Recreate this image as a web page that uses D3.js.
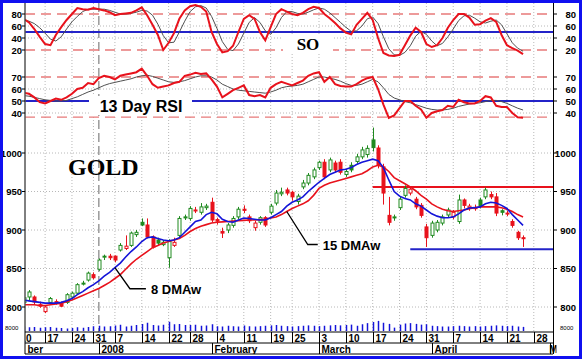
<!DOCTYPE html>
<meta charset="utf-8">
<script src="https://d3js.org/d3.v7.min.js"></script>
<style>
  body { margin: 0; background: #fff; }
  text { font-family: "Liberation Sans", Arial, sans-serif; }
</style>
<div id="chart"></div>
<script>

// trading days on the x axis (day of month)
var dec07 = [3,4,5,6,7,10,11,12,13,14,17,18,19,20,21,24,26,27,28,31];
var jan08 = [2,3,4,7,8,9,10,11,14,15,16,17,18,22,23,24,25,28,29,30,31];
var feb08 = [1,4,5,6,7,8,11,12,13,14,15,19,20,21,22,25,26,27,28,29];
var mar08 = [3,4,5,6,7,10,11,12,13,14,17,18,19,20,21,24,25,26,27,28,31];
var apr08 = [1,2,3,4,7,8,9,10,11,14,15,16,17,18,21,22,23,24,25,28,29,30];
var may08 = [1];

var firstBar = "2007-12-10";

// daily gold prices, Dec 10 2007 .. Apr 24 2008
var open = [802,806,
  813,813,803,794,806,807,805,806,813,818,
  830,835,842,849,865,866,866,874,876,880,
  894,910,906.5,891,887,881,864,880,893,917,
  915,926,923,929,936,913.5,898,900,906,917,
  927,917,903,910,916,923,935,947,952,949,
  937,956,961,969,981,988,978,987,988,972,
  984,989,995,998,1017,1006.5,982,919,916,929,
  945,948,940,932,904,893,900,909,919.5,917,
  911,939,929,929,939,943,946,943,925,922,
  911,897,890];
var high = [808,815,
  822,815,807,802,813,810,807,818,820,831,
  834,846,845,863,868,869,867,883,893,898,
  900,915,915,893,890,887,888,890,918,920,
  931,930,935,934,942,916,903,909,918,930,
  932,920,912,918,918,934,952,955,955,951,
  947,965,974,981,990,992,994,990,992,979,
  988,999,1008,1010,1033,1010,986,943,920,944,
  958,956,943,935,908,912,913,920,929,926,
  946,941,934,933,942,955,950,948,927,925,
  914,899,893];
var low = [799,803,
  809,802.6,799,792,803,803,800,804,811,816,
  828,833,836,847,861,861,858,872,874,878,
  891,905,889,876,880,879,851,878,891,913,
  912,922,920,926,910,907,889.6,896,903,914,
  922,909,899,907,904,920,932,944,945,938,
  933,953,958,966,978,966,975,975,972,969,
  975,986,992,994,1002,980,933,906,912,926,
  942,945,927,916,878,890,897,906,916,914,
  908,928,925,925,928,940,940,918,919,918,
  903,887,878];
var close = [806,812,
  819.5,806.5,801,800,811,806,801,816,818,829,
  831,844,838,861,866,864,861,880,879,896,
  897,906.5,891,878,883,884,885,884,915,916,
  928,926,930,931,913,911.5,896,906.5,915,927,
  925.5,912,909,916,906.5,931,948,949,948,943,
  944,961,971,978,988,969,991,978,975,976,
  978,995,1004,1006,1007,984,948,910,917,940,
  954,953,930,919,890,909,910,917,926,923,
  939,932,931,928,931,952,943,922,923,921,
  906,890,889];
var volume = [5500,6000,
  5000,5500,4500,5000,5500,4500,4000,3500,4000,5000,
  4500,5500,6500,7000,6000,6500,7500,8500,6000,7000,
  8000,9500,11000,8000,7500,8500,12500,9000,9500,8000,
  8000,8500,7000,7500,9000,6500,6000,7000,6500,6000,
  7500,6500,6000,6500,7000,7500,8000,7000,6500,6000,
  6500,7000,7500,7000,6500,7000,7500,8000,7500,8000,
  8500,7000,9000,10500,12000,13500,11000,9500,4500,8500,
  10000,10500,9500,8500,9000,7000,6500,6000,6000,6500,
  7000,6500,6000,6500,6000,6500,7000,7500,7000,6500,
  7000,6000,5500];

// 8 and 15 day weighted moving averages
var ma8 = [810,809,
  808,807,806,805,805,805,806,808,811,816,
  820,825,829,834,840,845,851,857,865,872,
  878,885,890,891,889,887,886,887,890,897,
  904,911,913,920,923,921,914,911,910,913,
  915.5,915,914,913,913,916,920,924,931,936,
  939,943,950,956,962,967,972,975,978,979,
  981,985,988,990,992,990,981,965,950,944,
  941,939,934,931,926,921,918,916,916,917,
  921,926,928.5,929,930,934,936,935,932,928,
  920,913,906];
var ma15 = [803,803,
  803,803,802,802,803,804,805,807,809,812,
  815,818,821,824,828,832,837,842,849,856,
  862,867,872,877,880,883,885,887,889,893,
  898,902,905,907,909,910,910.5,911,911.5,912,
  912.5,913,913,913.5,914,915.5,917,920,924,928,
  931,934,938,945,954,958,961,963,965,967,
  969,971,973,977,982,984,982,976,968,964,
  960,956,951,945,940,934,930,927,925,924,
  925,926,927.5,929,930,930,930,930,929,927,
  924,920,917];

// stochastic oscillator %K and %D
var soK = [76,72,
  66,55,42,30,28,45,58,70,80,90,
  88,87,90,88,86,83,78,80,81,82,
  86,91,78,62,45,20,32,48,72,86,
  93,95,92,84,50,30,16,18,27,50,
  72,78,72,50,36,58,80,88,84,80,
  78,82,88,92,90,80,73,65,56,49,
  46,62,72,82,70,40,15,11,10,12,
  28,44,57,50,30,25,28,40,57,70,
  80,80,74,62,63,69,73,67,45,28,
  23,19,13];
var soD = [72,70,
  68,64,57,48,38,35,42,55,67,76,
  84,88,88,88,88,86,83,80,80,81,
  83,86,85,78,63,44,32,33,50,68,
  84,92,94,90,76,56,34,21,19,30,
  48,66,74,66,52,46,57,74,84,84,
  81,80,83,87,90,88,82,74,66,58,
  51,52,60,72,75,64,42,22,12,11,
  16,27,43,51,46,35,27,31,42,55,
  69,77,78,73,67,65,68,70,62,47,
  32,23,18];

// 13 day RSI and its signal line
var rsi = [58,57,
  56,53,49,48,50,52,51,53,56,60,
  61,65,64,69,71,70,68,71,72,73,
  74,77,71,64,61,62,63,65,66,71,
  72,73.5,72.5,73,68,62,53,56,59,61,
  63,55,54,55,53,61,64,66,64.5,63,
  65,67,71,73,74,66,70,64,62.5,62,
  62,64,67,69,70,60,47,36,38,44,
  50,50,46,43,36,40,41.5,42.5,46,45,
  51,49,48,48,50,54,53,46,45,45,
  40,36.5,36];
var rsiSig = [55,54.5,
  54,53,52,51,50.5,50,50,50.5,52,53.5,
  55.5,57.5,59,61,63,64.5,65.5,66.5,67.5,68.5,
  70,71,71.5,70.5,69,67.5,66,65.5,66,67,
  68.5,70,71,71,70,67.5,64,62,60,59,
  58.5,58,57.5,57,56.5,57.5,59,61,62,62.5,
  63,64,66,68,70,70,69,68,66.5,64.5,
  63,63,64,66,68,66,61,55.5,52.5,51,
  49.5,48.5,47,45.5,44,43,42.5,42.5,43,44,
  45.5,46.5,47.5,48,48.5,49.5,50.5,50.5,49.5,48,
  46,44,42.5];

var weekTicks = ["2007-12-10","2007-12-17","2007-12-24","2007-12-31","2008-01-07","2008-01-14",
  "2008-01-22","2008-01-28","2008-02-04","2008-02-11","2008-02-19","2008-02-25","2008-03-03",
  "2008-03-10","2008-03-17","2008-03-24","2008-03-31","2008-04-07","2008-04-14","2008-04-21","2008-04-28"];
// December's label runs off the left edge, only its tail shows
var monthStarts = ["2007-12-10","2008-01-02","2008-02-01","2008-03-03","2008-04-01","2008-05-01"];
var monthNames = ["ber","2008","February","March","April","M"];

var soTicks = [80,60,40,20], rsiTicks = [70,60,50,40], priceTicks = [1000,950,900,850,800];
var resistance = 956, resistanceFrom = "2008-03-17";
var support = 875, supportFrom = "2008-03-26";

// ---------------------------------------------------------------
function pad(n) { return n < 10 ? "0" + n : "" + n; }
var days = [];
[["2007-12",dec07],["2008-01",jan08],["2008-02",feb08],["2008-03",mar08],["2008-04",apr08],["2008-05",may08]]
  .forEach(function(m) { m[1].forEach(function(d) { days.push(m[0] + "-" + pad(d)); }); });
var start = days.indexOf(firstBar);
var bars = close.map(function(c, i) {
  return {i: start + i, o: open[i], h: high[i], l: low[i], c: c, v: volume[i],
          prev: i ? close[i - 1] : open[i]};
});

var W = 582, H = 359, left = 25, right = 553;
var x = d3.scaleLinear().domain([7, 104]).range([29, 549.9]);
var ySO = d3.scaleLinear().domain([0, 100]).range([62, 2]);
var yRSI = d3.scaleLinear().domain([40, 70]).range([113, 77]);
var yP = d3.scaleLinear().domain([800, 1000]).range([307, 153]);
var yV = d3.scaleLinear().domain([0, 20000]).range([331, 316]);

var RED = "#e8121c", BLUE = "#1414d8", GREEN = "#1f8a1f", LVL = "#2323c8";

var svg = d3.select("#chart").append("svg").attr("width", W).attr("height", H);
svg.append("rect").attr("width", W).attr("height", H).attr("fill", "#fff");

svg.append("clipPath").attr("id", "plot")
  .append("rect").attr("x", left + 0.5).attr("y", 3).attr("width", right - left - 0.5).attr("height", 329);
svg.append("clipPath").attr("id", "rows")
  .append("rect").attr("x", left + 0.5).attr("y", 332).attr("width", right - left + 3).attr("height", 22);

var g = svg.append("g").attr("clip-path", "url(#plot)");

// vertical grid
g.selectAll(".vg").data(weekTicks).enter().append("line")
  .attr("x1", function(d) { return x(days.indexOf(d)); })
  .attr("x2", function(d) { return x(days.indexOf(d)); })
  .attr("y1", 3).attr("y2", 332)
  .attr("stroke", "#b8b8b8").attr("stroke-dasharray", "1,2");

// horizontal grid
function hgrid(vals, y) {
  g.selectAll(null).data(vals).enter().append("line")
    .attr("x1", left).attr("x2", right)
    .attr("y1", function(d) { return y(d); }).attr("y2", function(d) { return y(d); })
    .attr("stroke", "#b8b8b8").attr("stroke-dasharray", "1,2");
}
hgrid([60, 40], ySO);
hgrid([60, 40], yRSI);
hgrid(priceTicks, yP);

// year separator
g.append("line")
  .attr("x1", x(days.indexOf("2008-01-02"))).attr("x2", x(days.indexOf("2008-01-02")))
  .attr("y1", 3).attr("y2", 332)
  .attr("stroke", "#999").attr("stroke-width", 1.5).attr("stroke-dasharray", "9,4");

// oscillator levels
function dashed(v, y) {
  g.append("line").attr("x1", left).attr("x2", right).attr("y1", y(v)).attr("y2", y(v))
    .attr("stroke", "#e77a7a").attr("stroke-width", 1.3).attr("stroke-dasharray", "10,6");
}
dashed(80, ySO); dashed(20, ySO);
dashed(70, yRSI); dashed(36.5, yRSI);
g.append("line").attr("x1", left).attr("x2", right).attr("y1", ySO(50)).attr("y2", ySO(50))
  .attr("stroke", LVL).attr("stroke-width", 2);
g.append("line").attr("x1", left).attr("x2", right).attr("y1", yRSI(50)).attr("y2", yRSI(50))
  .attr("stroke", LVL).attr("stroke-width", 2);

// panel titles on white boxes
g.append("rect").attr("x", 283).attr("y", 36).attr("width", 50).attr("height", 18).attr("fill", "#fff");
g.append("text").attr("x", 308).attr("y", 50).attr("text-anchor", "middle")
  .style("font-family", "'Liberation Serif', 'Times New Roman', serif")
  .style("font-weight", "bold").style("font-size", "17px").text("SO");
g.append("rect").attr("x", 89).attr("y", 96).attr("width", 103).attr("height", 19).attr("fill", "#fff");
g.append("text").attr("x", 141).attr("y", 112).attr("text-anchor", "middle")
  .style("font-weight", "bold").style("font-size", "16px").text("13 Day RSI");

// oscillator lines
function series(vals, y) {
  return d3.line().x(function(d, i) { return x(start + i); }).y(function(d) { return y(d); })(vals);
}
g.append("path").attr("d", series(soD, ySO)).attr("fill", "none").attr("stroke", "#505050").attr("stroke-width", 1);
g.append("path").attr("d", series(soK, ySO)).attr("fill", "none").attr("stroke", RED).attr("stroke-width", 2);
g.append("path").attr("d", series(rsiSig, yRSI)).attr("fill", "none").attr("stroke", "#505050").attr("stroke-width", 1);
g.append("path").attr("d", series(rsi, yRSI)).attr("fill", "none").attr("stroke", RED).attr("stroke-width", 2);

// support / resistance
g.append("line").attr("x1", x(days.indexOf(resistanceFrom))).attr("x2", right)
  .attr("y1", yP(resistance)).attr("y2", yP(resistance)).attr("stroke", RED).attr("stroke-width", 2);
g.append("line").attr("x1", x(days.indexOf(supportFrom))).attr("x2", right)
  .attr("y1", yP(support)).attr("y2", yP(support)).attr("stroke", LVL).attr("stroke-width", 2);

// candles
var cg = g.append("g");
bars.forEach(function(b) {
  var col = b.c >= b.prev ? GREEN : RED;
  var cx = Math.round(x(b.i)) + 0.5;
  cg.append("line").attr("x1", cx).attr("x2", cx).attr("y1", yP(b.h)).attr("y2", yP(b.l))
    .attr("stroke", col).attr("stroke-width", 1);
  var top = yP(Math.max(b.o, b.c)), bot = yP(Math.min(b.o, b.c));
  cg.append("rect").attr("x", cx - 1.5).attr("y", top).attr("width", 3).attr("height", Math.max(bot - top, 1))
    .attr("fill", b.c > b.o ? "#fff" : col).attr("stroke", col).attr("stroke-width", 1);
});

// moving averages
g.append("path").attr("d", series(ma15, yP)).attr("fill", "none").attr("stroke", RED).attr("stroke-width", 1.6);
g.append("path").attr("d", series(ma8, yP)).attr("fill", "none").attr("stroke", BLUE).attr("stroke-width", 1.6);

// volume
g.selectAll(".vol").data(bars).enter().append("line")
  .attr("x1", function(d) { return Math.round(x(d.i)) + 0.5; })
  .attr("x2", function(d) { return Math.round(x(d.i)) + 0.5; })
  .attr("y1", yV(0)).attr("y2", function(d) { return yV(d.v); })
  .attr("stroke", BLUE).attr("stroke-width", 1.5);

// titles and callouts
svg.append("text").attr("x", 68).attr("y", 175)
  .style("font-family", "'Liberation Serif', 'Times New Roman', serif")
  .style("font-weight", "bold").style("font-size", "24px").text("GOLD");

function callout(day, arr, dx1, dy, dx2, label) {
  var k = days.indexOf(day), sx = x(k), sy = yP(arr[k - start]);
  svg.append("path").attr("d", "M" + sx + "," + sy + "L" + (sx + dx1) + "," + (sy + dy) + "L" + (sx + dx2) + "," + (sy + dy))
    .attr("fill", "none").attr("stroke", "#000").attr("stroke-width", 1.3);
  svg.append("text").attr("x", sx + dx2 + 5).attr("y", sy + dy + 5)
    .style("font-weight", "bold").style("font-size", "13px").text(label);
}
callout("2008-01-07", ma8, 15, 21, 31, "8 DMAw");
callout("2008-02-22", ma15, 21, 33, 31, "15 DMAw");

// value axes on both sides
svg.append("line").attr("x1", left).attr("x2", left).attr("y1", 3).attr("y2", 354).attr("stroke", "#000");
svg.append("line").attr("x1", right + 0.5).attr("x2", right + 0.5).attr("y1", 3).attr("y2", 354).attr("stroke", "#000");
function vaxis(vals, y) {
  vals.forEach(function(v) {
    svg.append("line").attr("x1", left - 3).attr("x2", left).attr("y1", y(v)).attr("y2", y(v)).attr("stroke", "#000");
    svg.append("line").attr("x1", right).attr("x2", right + 4).attr("y1", y(v)).attr("y2", y(v)).attr("stroke", "#000");
    svg.append("text").attr("x", 22).attr("y", y(v) + 3.5).attr("text-anchor", "end")
      .style("font-size", "9.5px").style("font-weight", "bold").text(v);
    svg.append("text").attr("x", 576).attr("y", y(v) + 3.5).attr("text-anchor", "end")
      .style("font-size", "9.5px").style("font-weight", "bold").text(v);
  });
}
vaxis(soTicks, ySO);
vaxis(rsiTicks, yRSI);
vaxis(priceTicks, yP);
svg.append("text").attr("x", 5).attr("y", 330).style("font-size", "6px").text("8000");
svg.append("text").attr("x", 560).attr("y", 330).style("font-size", "6px").text("8000");

// date rows
[332, 343, 354].forEach(function(yy) {
  svg.append("line").attr("x1", left).attr("x2", right).attr("y1", yy).attr("y2", yy).attr("stroke", "#000");
});
var rows = svg.append("g").attr("clip-path", "url(#rows)");
weekTicks.forEach(function(d) {
  var xx = Math.round(x(days.indexOf(d))) + 0.5;
  rows.append("line").attr("x1", xx).attr("x2", xx).attr("y1", 332).attr("y2", 343).attr("stroke", "#000");
  rows.append("text").attr("x", xx + 2).attr("y", 342).style("font-size", "10px").style("font-weight", "bold")
    .text(+d.slice(8));
});
monthStarts.forEach(function(d, j) {
  var xx = Math.round(x(days.indexOf(d))) + 0.5;
  if (j > 0) rows.append("line").attr("x1", xx).attr("x2", xx).attr("y1", 343).attr("y2", 354).attr("stroke", "#000");
  rows.append("text").attr("x", j > 0 ? xx + 2 : xx + 9).attr("y", 353)
    .attr("text-anchor", j === monthStarts.length - 1 ? "end" : "start")
    .attr("dx", j === monthStarts.length - 1 ? 5 : 0)
    .style("font-size", "10px").style("font-weight", "bold")
    .text(monthNames[j]);
});

// frame
svg.append("rect").attr("x", 1.5).attr("y", 1.5).attr("width", W - 3).attr("height", H - 3)
  .attr("fill", "none").attr("stroke", "#1010f0").attr("stroke-width", 3);
</script>
